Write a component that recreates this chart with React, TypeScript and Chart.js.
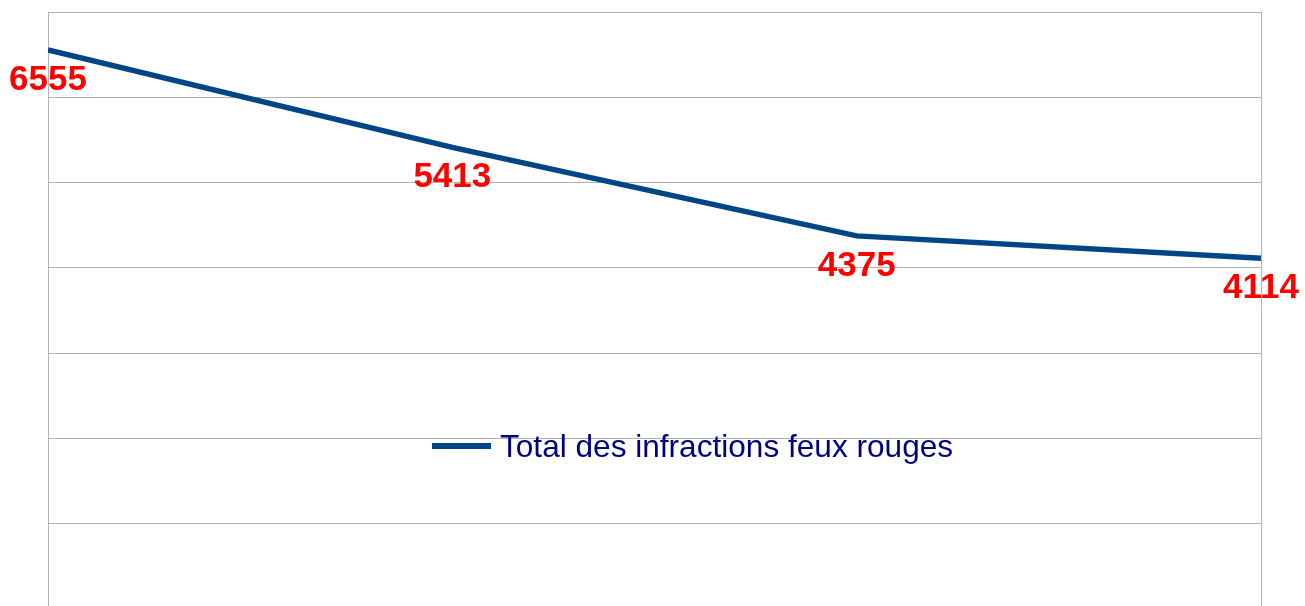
import React, { useEffect, useRef } from "react";
import { Chart, registerables } from "chart.js";

Chart.register(...registerables);

const categories = ["Période 1", "Période 2", "Période 3", "Période 4"];
const seriesLabel = "Total des infractions feux rouges";
const seriesValues = [6555, 5413, 4375, 4114];
const yTicks = [0, 1000, 2000, 3000, 4000, 5000, 6000, 7000];

const LINE_COLOR = "#004586";
const GRID_COLOR = "#b3b3b3";
const LABEL_COLOR = "#ff0000";
const LEGEND_TEXT_COLOR = "#000080";

const dataLabelsPlugin = {
  id: "dataLabelsPlugin",
  afterDatasetsDraw(chart: any) {
    const ctx = chart.ctx;
    const meta = chart.getDatasetMeta(0);
    const ds = chart.data.datasets[0];
    ctx.save();
    ctx.font = "bold 35px 'Liberation Sans', Arial, sans-serif";
    ctx.fillStyle = LABEL_COLOR;
    ctx.textAlign = "center";
    ctx.textBaseline = "middle";
    meta.data.forEach((pt: any, i: number) => {
      ctx.fillText(String(ds.data[i]), pt.x, pt.y + 30);
    });
    ctx.restore();
  },
};

const legendPlugin = {
  id: "insideLegend",
  afterDraw(chart: any) {
    const ctx = chart.ctx;
    const area = chart.chartArea;
    const ds = chart.data.datasets[0];
    const x0 = area.left + 384;
    const yc = area.top + 434;
    ctx.save();
    ctx.strokeStyle = ds.borderColor;
    ctx.lineWidth = 6;
    ctx.lineCap = "butt";
    ctx.beginPath();
    ctx.moveTo(x0, yc);
    ctx.lineTo(x0 + 59, yc);
    ctx.stroke();
    ctx.font = "31.6px 'Liberation Sans', Arial, sans-serif";
    ctx.fillStyle = LEGEND_TEXT_COLOR;
    ctx.textAlign = "left";
    ctx.textBaseline = "alphabetic";
    ctx.fillText(ds.label, x0 + 68, yc + 11);
    ctx.restore();
  },
};

export default function App() {
  const canvasRef = useRef<HTMLCanvasElement | null>(null);

  useEffect(() => {
    if (!canvasRef.current) return;
    const chart = new Chart(canvasRef.current, {
      type: "line",
      data: {
        labels: categories,
        datasets: [
          {
            label: seriesLabel,
            data: seriesValues,
            borderColor: LINE_COLOR,
            backgroundColor: LINE_COLOR,
            borderWidth: 5.5,
            pointRadius: 0,
            pointHoverRadius: 0,
            tension: 0,
            fill: false,
            clip: 0,
          } as any,
        ],
      },
      options: {
        animation: false,
        responsive: true,
        maintainAspectRatio: false,
        layout: { padding: { left: 48, right: 44, top: 12, bottom: 3 } },
        plugins: {
          legend: { display: false },
          tooltip: { enabled: false },
          title: { display: false },
        },
        scales: {
          x: {
            offset: false,
            ticks: { display: false },
            grid: {
              drawTicks: false,
              lineWidth: 1,
              color: (c: any) =>
                c.index === categories.length - 1 ? GRID_COLOR : "rgba(0,0,0,0)",
            },
            border: { display: false },
          },
          y: {
            min: yTicks[0],
            max: yTicks[yTicks.length - 1],
            ticks: { display: false, stepSize: yTicks[1] - yTicks[0] },
            grid: { drawTicks: false, color: GRID_COLOR, lineWidth: 1 },
            border: { display: true, color: GRID_COLOR, width: 1 },
          },
        },
      },
      plugins: [dataLabelsPlugin, legendPlugin],
    });
    return () => chart.destroy();
  }, []);

  return (
    <div
      style={{
        position: "fixed",
        top: 0,
        left: 0,
        width: 1305,
        height: 606,
        overflow: "hidden",
        background: "#ffffff",
      }}
    >
      <div style={{ position: "relative", width: 1305, height: 612 }}>
        <canvas ref={canvasRef} />
      </div>
    </div>
  );
}
